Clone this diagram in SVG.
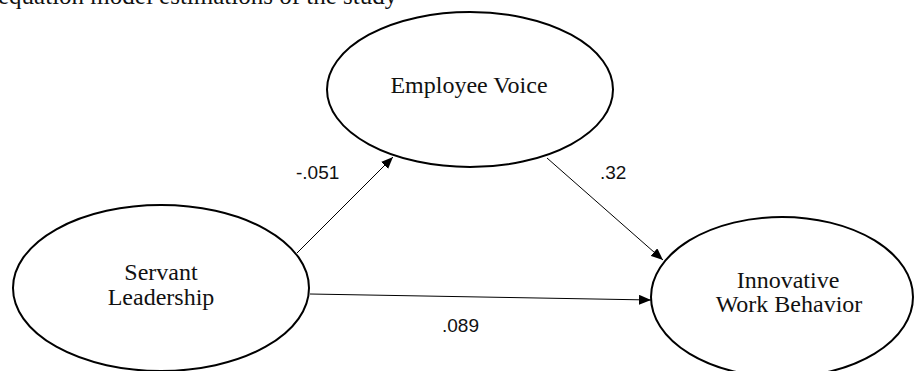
<svg xmlns="http://www.w3.org/2000/svg" width="914" height="371" viewBox="0 0 914 371">
<style>
.node{fill:#fff;stroke:#000;stroke-width:2}
.lbl{font-family:"Liberation Serif","Times New Roman",serif;font-size:24px;fill:#111;text-anchor:middle}
.coef{font-family:"Liberation Sans",Arial,sans-serif;font-size:19px;fill:#111}
.edge{stroke:#000;stroke-width:1;fill:none;marker-end:url(#ah)}
</style>
<defs>
<marker id="ah" viewBox="0 0 12 10" refX="12" refY="5" markerWidth="12" markerHeight="10" markerUnits="userSpaceOnUse" orient="auto">
<path d="M0,0 L12,5 L0,10 Z" fill="#000"/>
</marker>
</defs>
<rect width="914" height="371" fill="#fff"/>
<text x="-2" y="4" style="font-family:'Liberation Serif','Times New Roman',serif;font-size:25px;fill:#111">equation model estimations of the study</text>
<g id="connectors">
<line class="edge" x1="297" y1="253" x2="393" y2="157"/>
<line class="edge" x1="547" y1="158" x2="663" y2="260"/>
<line class="edge" x1="310" y1="294" x2="651" y2="300"/>
<text class="coef" x="296" y="179">-.051</text>
<text class="coef" x="600" y="179">.32</text>
<text class="coef" x="442" y="332">.089</text>
</g>
<g id="employee-voice">
<ellipse class="node" cx="470" cy="89.5" rx="143" ry="77.5"/>
<text class="lbl" x="469" y="93">Employee Voice</text>
</g>
<g id="servant-leadership">
<ellipse class="node" cx="161" cy="288" rx="148" ry="83"/>
<text class="lbl" x="161" y="280">Servant</text>
<text class="lbl" x="161" y="305">Leadership</text>
</g>
<g id="innovative-work-behavior">
<ellipse class="node" cx="782" cy="297" rx="131" ry="80"/>
<text class="lbl" x="788" y="288">Innovative</text>
<text class="lbl" x="789" y="312">Work Behavior</text>
</g>
</svg>
